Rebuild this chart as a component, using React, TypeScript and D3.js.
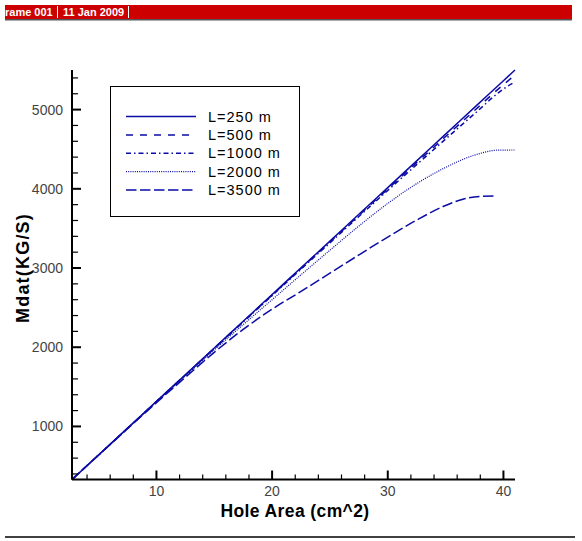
import React from 'react';
import * as d3 from 'd3';

// hole area (cm^2) values shared by the curves
const areas = [2.7, 5, 7.5, 10, 12.5, 15, 17.5, 20, 22.5, 25, 27.5, 30, 32.5, 35, 37.5, 40, 41];

// mass flow (KG/S) for each pipe length
const m250 = [330, 640, 978, 1316, 1653, 1990, 2328, 2665, 3003, 3340, 3678, 4015, 4353, 4690, 5028, 5365, 5500];
const m500 = [330, 640, 977, 1314, 1650, 1986, 2322, 2658, 2994, 3330, 3664, 3998, 4330, 4660, 4988, 5316, 5435];
const m1000 = [330, 640, 976, 1312, 1648, 1983, 2318, 2652, 2986, 3318, 3650, 3980, 4305, 4628, 4948, 5260, 5350];
const m2000Area = [2.7, 5, 7.5, 10, 12.5, 15, 17.5, 20, 22.5, 25, 27.5, 30, 32.5, 35, 37.5, 39.5, 41];
const m2000 = [330, 640, 975, 1308, 1638, 1965, 2285, 2600, 2915, 3225, 3530, 3815, 4065, 4270, 4425, 4488, 4490];
const m3500Area = [2.7, 5, 7.5, 10, 12.5, 15, 17.5, 20, 22.5, 25, 27.5, 30, 32.5, 35, 36.5, 38, 39.2];
const m3500 = [330, 638, 970, 1300, 1620, 1935, 2225, 2480, 2705, 2935, 3165, 3390, 3605, 3790, 3868, 3905, 3910];

const seriesNames = ['L=250 m', 'L=500 m', 'L=1000 m', 'L=2000 m', 'L=3500 m'];
const dashes = ['none', '7,7', '5,3,1.5,3', '1,1.2', '10.5,3.5'];

const xMajor = [10, 20, 30, 40];
const yMajor = [1000, 2000, 3000, 4000, 5000];

const headerParts = ['rame 001', '11 Jan 2009'];

const W = 582;
const H = 541;
const plot = { left: 72, right: 515, top: 70, bottom: 479.5 };
const blue = '#0b0ba6';

export default function App() {
  const x = d3.scaleLinear().domain([2.7, 41]).range([plot.left, plot.right]);
  const y = d3.scaleLinear().domain([330, 5500]).range([plot.bottom, plot.top]);

  const series = [
    { xs: areas, ys: m250 },
    { xs: areas, ys: m500 },
    { xs: areas, ys: m1000 },
    { xs: m2000Area, ys: m2000 },
    { xs: m3500Area, ys: m3500 },
  ];

  const line = d3
    .line<[number, number]>()
    .x(d => x(d[0]))
    .y(d => y(d[1]))
    .curve(d3.curveMonotoneX);

  // minor ticks every 2 on x, every 200 on y
  const xMinor = d3.range(4, 41, 2).filter(v => !xMajor.includes(v));
  const yMinor = d3.range(400, 5500, 200).filter(v => !yMajor.includes(v));

  const legendRows = seriesNames.map((n, i) => 116.5 + i * 18.4);

  return (
    <svg width={W} height={H} style={{ position: 'absolute', left: 0, top: 0, background: '#fff' }}
      fontFamily="Arial, 'Liberation Sans', sans-serif">
      {/* header bar */}
      <rect x={5} y={5} width={567} height={14} fill="#cc0000" />
      <rect x={5} y={19} width={567} height={1.5} fill="#555" />
      <text x={5} y={16} fill="#fff" fontSize={11} fontWeight="bold">{headerParts[0]}</text>
      <line x1={57.5} x2={57.5} y1={6} y2={18} stroke="#fff" />
      <text x={63} y={16} fill="#fff" fontSize={11} fontWeight="bold">{headerParts[1]}</text>
      <line x1={128.5} x2={128.5} y1={6} y2={18} stroke="#fff" />

      {/* curves */}
      {series.map((s, i) => (
        <path key={i}
          d={line(s.xs.map((v, j) => [v, s.ys[j]] as [number, number])) || ''}
          fill="none" stroke={blue} strokeWidth={i === 3 ? 1.2 : 1.5}
          strokeDasharray={dashes[i]} />
      ))}

      {/* axes */}
      <line x1={plot.left} x2={plot.right} y1={plot.bottom} y2={plot.bottom} stroke="#000" strokeWidth={2} />
      <line x1={plot.left} x2={plot.left} y1={plot.top} y2={plot.bottom} stroke="#000" strokeWidth={2} />
      {xMajor.map(v => (
        <g key={'xm' + v}>
          <line x1={x(v)} x2={x(v)} y1={plot.bottom} y2={plot.bottom - 9} stroke="#000" strokeWidth={2} />
          <text x={x(v)} y={495.5} textAnchor="middle" fontSize={14} fill="#444">{v}</text>
        </g>
      ))}
      {xMinor.map(v => (
        <line key={'xn' + v} x1={x(v)} x2={x(v)} y1={plot.bottom} y2={plot.bottom - 5} stroke="#000" strokeWidth={1.2} />
      ))}
      {yMajor.map(v => (
        <g key={'ym' + v}>
          <line x1={plot.left} x2={plot.left + 9} y1={y(v)} y2={y(v)} stroke="#000" strokeWidth={2} />
          <text x={63} y={y(v) + 5} textAnchor="end" fontSize={14} fill="#444">{v}</text>
        </g>
      ))}
      {yMinor.map(v => (
        <line key={'yn' + v} x1={plot.left} x2={plot.left + 6} y1={y(v)} y2={y(v)} stroke="#000" strokeWidth={1.2} />
      ))}

      {/* axis titles */}
      <text x={295} y={516.5} textAnchor="middle" fontSize={17.5} fontWeight="bold" letterSpacing={0.4}>Hole Area (cm^2)</text>
      <text transform="translate(29,268) rotate(-90)" textAnchor="middle" fontSize={18} fontWeight="bold" letterSpacing={1.2}>Mdat(KG/S)</text>

      {/* legend */}
      <rect x={110.5} y={86.5} width={189} height={130} fill="#fff" stroke="#000" strokeWidth={1} />
      {seriesNames.map((n, i) => (
        <g key={n}>
          <line x1={126} x2={196} y1={legendRows[i]} y2={legendRows[i]} stroke={blue}
            strokeWidth={i === 3 ? 1.2 : 1.5} strokeDasharray={dashes[i]} />
          <text x={208} y={legendRows[i] + 5} fontSize={14.5} letterSpacing={1} fill="#000">{n}</text>
        </g>
      ))}

      {/* bottom rule */}
      <line x1={5} x2={575} y1={537} y2={537} stroke="#000" strokeWidth={1.5} />
    </svg>
  );
}
